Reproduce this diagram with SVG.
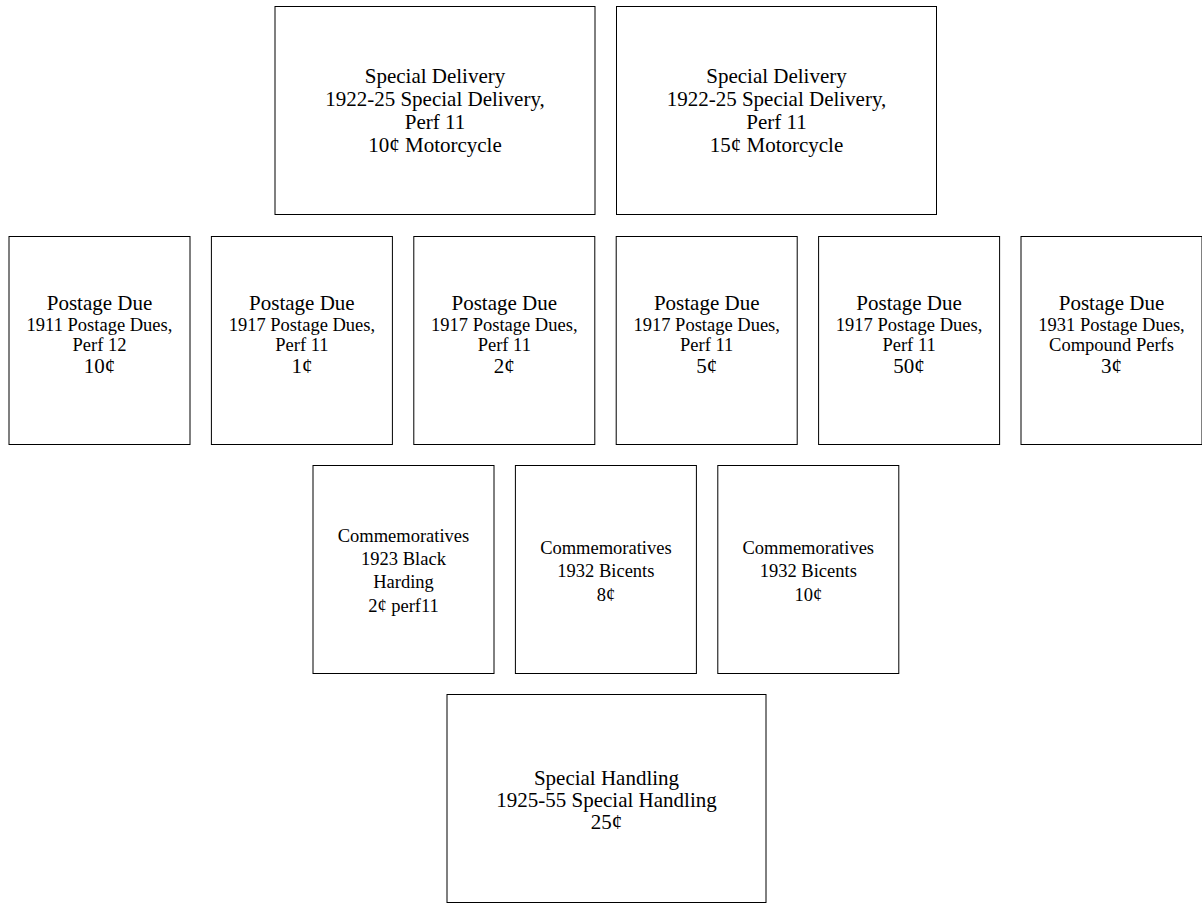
<svg xmlns="http://www.w3.org/2000/svg" width="1202" height="903" viewBox="0 0 1202 903">
<style>
  .box { fill: #ffffff; stroke: #000000; stroke-width: 1; }
  text { font-family: "Liberation Serif", "Times New Roman", serif; fill: #000000; text-anchor: middle; }
  .big { font-size: 21px; }
  .sm { font-size: 18.5px; }
</style>
<rect x="0" y="0" width="1202" height="903" fill="#ffffff"/>
<g id="connectors"></g>
<g id="sd10">
  <rect class="box" x="275" y="6.5" width="320" height="208"/>
  <text class="big" x="435" y="82.5">Special Delivery</text>
  <text class="big" x="435" y="105.5">1922-25 Special Delivery,</text>
  <text class="big" x="435" y="128.5">Perf 11</text>
  <text class="big" x="435" y="151.5">10¢ Motorcycle</text>
</g>
<g id="sd15">
  <rect class="box" x="616.5" y="6.5" width="320" height="208"/>
  <text class="big" x="776.5" y="82.5">Special Delivery</text>
  <text class="big" x="776.5" y="105.5">1922-25 Special Delivery,</text>
  <text class="big" x="776.5" y="128.5">Perf 11</text>
  <text class="big" x="776.5" y="151.5">15¢ Motorcycle</text>
</g>
<g id="pd1911-10">
  <rect class="box" x="9" y="236.5" width="181" height="208"/>
  <text class="big" x="99.5" y="310">Postage Due</text>
  <text class="sm" x="99.5" y="331">1911 Postage Dues,</text>
  <text class="sm" x="99.5" y="351">Perf 12</text>
  <text class="big" x="99.5" y="373">10¢</text>
</g>
<g id="pd1917-1">
  <rect class="box" x="211.4" y="236.5" width="181" height="208"/>
  <text class="big" x="301.9" y="310">Postage Due</text>
  <text class="sm" x="301.9" y="331">1917 Postage Dues,</text>
  <text class="sm" x="301.9" y="351">Perf 11</text>
  <text class="big" x="301.9" y="373">1¢</text>
</g>
<g id="pd1917-2">
  <rect class="box" x="413.8" y="236.5" width="181" height="208"/>
  <text class="big" x="504.3" y="310">Postage Due</text>
  <text class="sm" x="504.3" y="331">1917 Postage Dues,</text>
  <text class="sm" x="504.3" y="351">Perf 11</text>
  <text class="big" x="504.3" y="373">2¢</text>
</g>
<g id="pd1917-5">
  <rect class="box" x="616.2" y="236.5" width="181" height="208"/>
  <text class="big" x="706.7" y="310">Postage Due</text>
  <text class="sm" x="706.7" y="331">1917 Postage Dues,</text>
  <text class="sm" x="706.7" y="351">Perf 11</text>
  <text class="big" x="706.7" y="373">5¢</text>
</g>
<g id="pd1917-50">
  <rect class="box" x="818.6" y="236.5" width="181" height="208"/>
  <text class="big" x="909.1" y="310">Postage Due</text>
  <text class="sm" x="909.1" y="331">1917 Postage Dues,</text>
  <text class="sm" x="909.1" y="351">Perf 11</text>
  <text class="big" x="909.1" y="373">50¢</text>
</g>
<g id="pd1931-3">
  <rect class="box" x="1021" y="236.5" width="181" height="208"/>
  <text class="big" x="1111.5" y="310">Postage Due</text>
  <text class="sm" x="1111.5" y="331">1931 Postage Dues,</text>
  <text class="sm" x="1111.5" y="351">Compound Perfs</text>
  <text class="big" x="1111.5" y="373">3¢</text>
</g>
<g id="comm-harding">
  <rect class="box" x="313" y="465.5" width="181" height="208"/>
  <text class="sm" x="403.5" y="542">Commemoratives</text>
  <text class="sm" x="403.5" y="565">1923 Black</text>
  <text class="sm" x="403.5" y="588">Harding</text>
  <text class="sm" x="403.5" y="612">2¢ perf11</text>
</g>
<g id="comm-bicent8">
  <rect class="box" x="515.4" y="465.5" width="181" height="208"/>
  <text class="sm" x="605.9" y="554">Commemoratives</text>
  <text class="sm" x="605.9" y="577">1932 Bicents</text>
  <text class="sm" x="605.9" y="601">8¢</text>
</g>
<g id="comm-bicent10">
  <rect class="box" x="717.8" y="465.5" width="181" height="208"/>
  <text class="sm" x="808.3" y="554">Commemoratives</text>
  <text class="sm" x="808.3" y="577">1932 Bicents</text>
  <text class="sm" x="808.3" y="601">10¢</text>
</g>
<g id="special-handling">
  <rect class="box" x="447" y="694.5" width="319" height="208"/>
  <text class="big" x="606.5" y="785">Special Handling</text>
  <text class="big" x="606.5" y="807">1925-55 Special Handling</text>
  <text class="big" x="606.5" y="829">25¢</text>
</g>
</svg>
